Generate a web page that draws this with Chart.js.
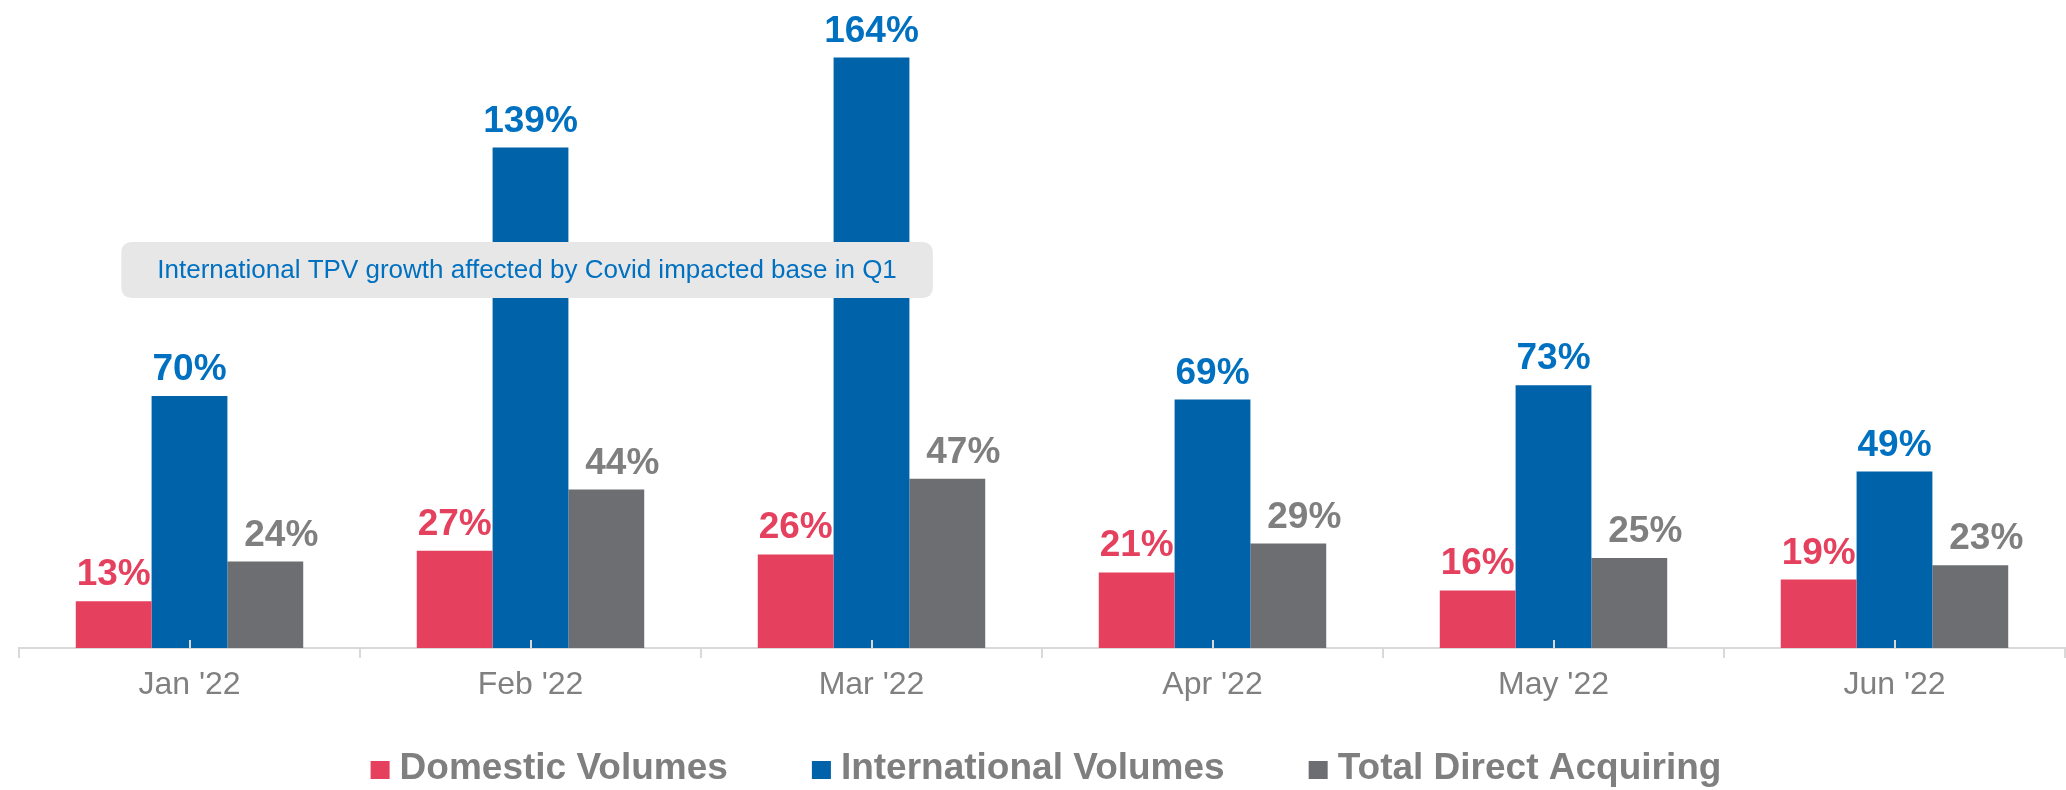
<!DOCTYPE html>
<html>
<head>
<meta charset="utf-8">
<script src="https://cdn.jsdelivr.net/npm/chart.js@4.4.1/dist/chart.umd.min.js"></script>
<style>
  html, body { margin: 0; padding: 0; background: #ffffff; }
  #wrap { width: 2066px; height: 790px; position: relative; }
</style>
</head>
<body>
<div id="wrap"><canvas id="graficoTPV"></canvas></div>
<script>
const months = ["Jan '22", "Feb '22", "Mar '22", "Apr '22", "May '22", "Jun '22"];
const domesticVolumes = [13, 27, 26, 21, 16, 19];
const internationalVolumes = [70, 139, 164, 69, 73, 49];
const totalDirectAcquiring = [24, 44, 47, 29, 25, 23];
const noteText = 'International TPV growth affected by Covid impacted base in Q1';

const fontFamily = '"Liberation Sans", Arial, sans-serif';

// bar value labels, drawn above each bar
const barLabels = {
    id: 'barLabels',
    afterDatasetsDraw(chart) {
        const ctx = chart.ctx;
        ctx.save();
        ctx.font = 'bold 37px ' + fontFamily;
        ctx.textAlign = 'center';
        ctx.textBaseline = 'alphabetic';
        chart.data.datasets.forEach((ds, i) => {
            const meta = chart.getDatasetMeta(i);
            ctx.fillStyle = ds.labelColor;
            meta.data.forEach((bar, j) => {
                ctx.fillText(ds.data[j] + '%', bar.x + ds.labelShift, bar.y - 16);
            });
        });
        ctx.restore();
    }
};

// small ticks at category centres + the grey note box
const extras = {
    id: 'extras',
    afterDatasetsDraw(chart) {
        const ctx = chart.ctx;
        const x = chart.scales.x;
        const y = chart.scales.y;
        const area = chart.chartArea;
        ctx.save();
        ctx.strokeStyle = '#d9d9d9';
        ctx.lineWidth = 2;
        months.forEach((m, i) => {
            const px = Math.round(x.getPixelForValue(i));
            ctx.beginPath();
            ctx.moveTo(px, area.bottom - 8);
            ctx.lineTo(px, area.bottom);
            ctx.stroke();
        });

        // note box sits over the Feb / Mar bars
        const left = x.getPixelForValue(-0.2);
        const right = x.getPixelForValue(2.18);
        const top = y.getPixelForValue(112.8);
        const bottom = y.getPixelForValue(97.2);
        ctx.fillStyle = '#e7e7e7';
        ctx.beginPath();
        ctx.roundRect(left, top, right - left, bottom - top, 10);
        ctx.fill();
        ctx.fillStyle = '#0070c0';
        ctx.font = '26px ' + fontFamily;
        ctx.textAlign = 'center';
        ctx.textBaseline = 'middle';
        ctx.fillText(noteText, (left + right) / 2, (top + bottom) / 2 + 1);
        ctx.restore();
    }
};

// legend drawn by hand so the spacing matches
const bottomLegend = {
    id: 'bottomLegend',
    afterDraw(chart) {
        const ctx = chart.ctx;
        const area = chart.chartArea;
        const boxW = 19, boxH = 18, textGap = 10, itemGap = 84;
        ctx.save();
        ctx.font = 'bold 37px ' + fontFamily;
        const items = chart.data.datasets.map(ds => ({
            text: ds.label,
            color: ds.backgroundColor,
            w: boxW + textGap + ctx.measureText(ds.label).width
        }));
        const total = items.reduce((s, it) => s + it.w, 0) + itemGap * (items.length - 1);
        let cx = (area.left + area.right) / 2 + 4 - total / 2;
        const baseline = chart.height - 11;
        ctx.textAlign = 'left';
        ctx.textBaseline = 'alphabetic';
        items.forEach(it => {
            ctx.fillStyle = it.color;
            ctx.fillRect(cx, baseline - boxH, boxW, boxH);
            ctx.fillStyle = '#7f7f7f';
            ctx.fillText(it.text, cx + boxW + textGap, baseline);
            cx += it.w + itemGap;
        });
        ctx.restore();
    }
};

const ctx1 = document.getElementById('graficoTPV').getContext('2d');

const graficoTPV = new Chart(ctx1, {
    type: 'bar',
    data: {
        labels: months,
        datasets: [
            {
                label: 'Domestic Volumes',
                data: domesticVolumes,
                backgroundColor: '#e5405e',
                labelColor: '#e5405e',
                labelShift: 0
            },
            {
                label: 'International Volumes',
                data: internationalVolumes,
                backgroundColor: '#0062a9',
                labelColor: '#0070c0',
                labelShift: 0
            },
            {
                label: 'Total Direct Acquiring',
                data: totalDirectAcquiring,
                backgroundColor: '#6d6e71',
                labelColor: '#7f7f7f',
                labelShift: 16
            }
        ]
    },
    options: {
        responsive: true,
        maintainAspectRatio: false,
        animation: false,
        layout: {
            padding: { left: 19, right: 1, top: 0, bottom: 82 }
        },
        datasets: {
            bar: {
                categoryPercentage: 0.667,
                barPercentage: 1.0
            }
        },
        plugins: {
            legend: { display: false },
            tooltip: { enabled: false }
        },
        scales: {
            x: {
                offset: true,
                afterFit(scale) { scale.height = 60; },
                grid: {
                    offset: true,
                    drawOnChartArea: false,
                    tickLength: 10,
                    color: '#d9d9d9',
                    lineWidth: 2
                },
                border: { color: '#d9d9d9', width: 2 },
                ticks: {
                    padding: 8,
                    color: '#808080',
                    font: { family: fontFamily, size: 32 }
                }
            },
            y: {
                display: false,
                min: 0,
                max: 180
            }
        }
    },
    plugins: [barLabels, extras, bottomLegend]
});
</script>
</body>
</html>
